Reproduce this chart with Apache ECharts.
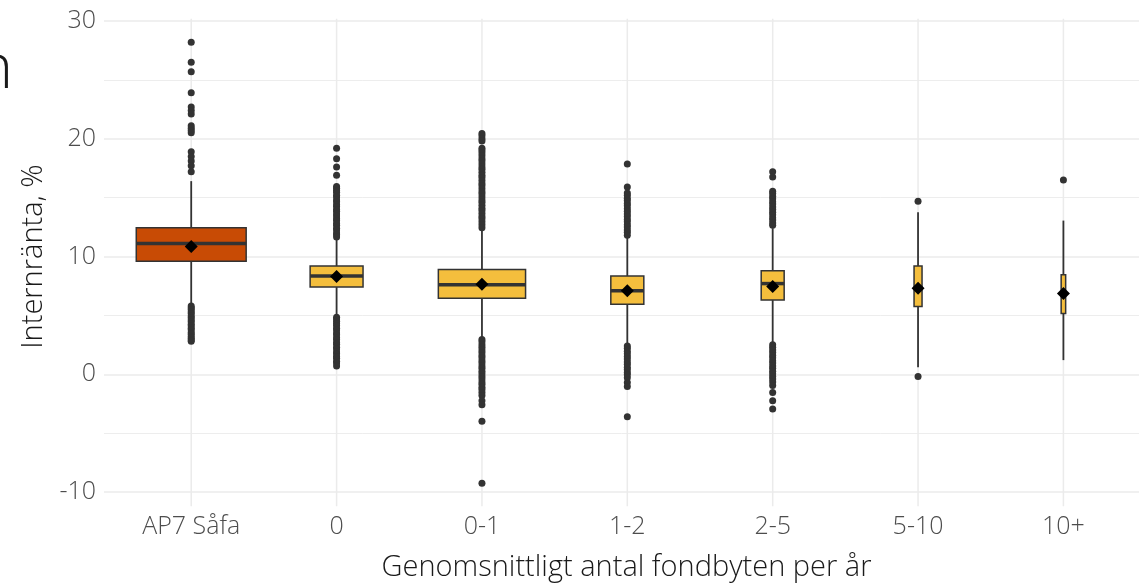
<!DOCTYPE html>
<html><head><meta charset="utf-8">
<script src="https://cdn.jsdelivr.net/npm/echarts@6/dist/echarts.min.js"></script>
<style>html,body{margin:0;padding:0;background:#fff;overflow:hidden}#c{width:1142px;height:587px}</style>
</head><body><div id="c"></div>
<script>
// ---- data ----
const categories = ['AP7 Såfa', '0', '0-1', '1-2', '2-5', '5-10', '10+'];
const whiskerLow  = [6.0, 5.0, 3.1, 2.5, 2.7, 0.6, 1.2];
const q1          = [9.6, 7.4, 6.45, 5.95, 6.3, 5.75, 5.15];
const median      = [11.1, 8.35, 7.6, 7.1, 7.7, 7.35, 6.9];
const q3          = [12.45, 9.2, 8.9, 8.35, 8.8, 9.2, 8.45];
const whiskerHigh = [16.4, 11.5, 12.3, 11.6, 12.4, 13.75, 13.05];
const means       = [10.85, 8.3, 7.65, 7.1, 7.45, 7.3, 6.85];
const outAP7 = [28.2, 26.5, 25.7, 23.9, 22.7, 22.4, 22.1, 21.1, 20.9, 20.7, 20.5, 18.9, 18.5, 18.1, 17.7, 17.2,
  5.8, 5.65, 5.5, 5.3, 5.15, 4.95, 4.8, 4.6, 4.45, 4.25, 4.1, 3.9, 3.75, 3.55, 3.4, 3.2, 3.05, 2.9, 2.8];
const out0 = [19.2, 18.3, 17.6, 16.9, 15.95, 15.8, 15.6, 15.45, 15.2, 15.05, 14.8, 14.65, 14.4, 14.25, 14.0, 13.85,
  13.6, 13.45, 13.2, 13.05, 12.8, 12.65, 12.4, 12.25, 12.0, 11.85, 11.65,
  4.85, 4.7, 4.5, 4.3, 4.15, 3.9, 3.75, 3.5, 3.35, 3.1, 2.95, 2.7, 2.55, 2.3, 2.15, 1.9, 1.75, 1.5, 1.35, 1.1, 0.95, 0.7];
const out01 = [20.45, 20.25, 20.0, 19.8, 19.2, 19.0, 18.8, 18.55, 18.3, 18.1, 17.85, 17.6, 17.4, 17.15, 16.9, 16.7,
  16.45, 16.2, 16.0, 15.75, 15.5, 15.3, 15.05, 14.8, 14.6, 14.35, 14.1, 13.9, 13.65, 13.4, 13.2, 12.95, 12.7, 12.45,
  2.95, 2.75, 2.5, 2.3, 2.05, 1.85, 1.6, 1.4, 1.15, 0.95, 0.7, 0.5, 0.25, 0.05, -0.2, -0.4, -0.65, -0.85, -1.1, -1.3,
  -1.55, -1.8, -2.25, -2.6, -4.0, -9.25];
const out12 = [17.85, 15.9, 15.4, 15.2, 14.95, 14.75, 14.5, 14.3, 14.05, 13.85, 13.6, 13.4, 13.15, 12.95, 12.7, 12.5,
  12.25, 12.05, 11.8, 2.4, 2.2, 1.95, 1.75, 1.5, 1.3, 1.05, 0.85, 0.6, 0.4, 0.15, -0.05, -0.3, -0.7, -1.05, -3.6];
const out25 = [17.2, 16.75, 15.55, 15.35, 15.1, 14.9, 14.65, 14.45, 14.2, 14.0, 13.75, 13.55, 13.3, 13.1, 12.85, 12.65,
  2.5, 2.3, 2.05, 1.85, 1.6, 1.4, 1.15, 0.95, 0.7, 0.5, 0.25, 0.05, -0.2, -0.4, -0.65, -0.95, -1.55, -2.25, -2.95];
const out510 = [14.7, -0.2];
const out10p = [16.5];
const outlierLists = [outAP7, out0, out01, out12, out25, out510, out10p];
const yTicks = [-10, 0, 10, 20, 30];

// ---- styles / layout ----
const boxWidthFrac = [0.756, 0.364, 0.6, 0.227, 0.158, 0.055, 0.031];
const boxColors = ['#C84B05', '#F4BE3D', '#F4BE3D', '#F4BE3D', '#F4BE3D', '#F4BE3D', '#F4BE3D'];
const panelTop = 30.2, panelBottom = -11.2;
const FONT = '"Open Sans", "Noto Sans", sans-serif';

const boxData = categories.map((c, i) => [i, whiskerLow[i], q1[i], median[i], q3[i], whiskerHigh[i]]);
const outlierData = [];
outlierLists.forEach((arr, i) => arr.forEach(v => outlierData.push([i, v])));
const meanData = means.map((m, i) => [i, m]);
const vgridData = categories.map((c, i) => [i]);

const chart = echarts.init(document.getElementById('c'), null, {renderer: 'canvas'});
chart.setOption({
  animation: false,
  backgroundColor: '#fff',
  grid: {left: 104, top: 21, width: 1038, height: 472, containLabel: false},
  xAxis: {
    type: 'value', min: -0.6, max: 6.52, splitNumber: 7,
    axisLine: {show: false}, axisTick: {show: false}, splitLine: {show: false},
    axisLabel: {
      margin: 22, fontSize: 25, color: '#4D4D4D', fontFamily: FONT, fontWeight: 300,
      formatter: v => (Number.isInteger(v) && categories[v] !== undefined) ? categories[v] : ''
    },
    name: 'Genomsnittligt antal fondbyten per år', nameLocation: 'middle', nameGap: 61,
    nameTextStyle: {fontSize: 29, color: '#1A1A1A', fontFamily: FONT, fontWeight: 300, padding: [0, 0, 0, 10]}
  },
  yAxis: {
    type: 'value', min: -10, max: 30, interval: 10,
    axisLine: {show: false}, axisTick: {show: false},
    splitLine: {show: true, lineStyle: {color: '#EBEBEB', width: 1.5}},
    minorTick: {show: false, splitNumber: 2},
    minorSplitLine: {show: true, lineStyle: {color: '#EDEDED', width: 1}},
    axisLabel: {margin: 8, fontSize: 25, color: '#4D4D4D', fontFamily: FONT, fontWeight: 300,
      formatter: v => yTicks.includes(v) ? String(v) : ''},
    name: 'Internränta, %', nameLocation: 'middle', nameGap: 45, nameRotate: 90,
    nameTextStyle: {fontSize: 29, color: '#1A1A1A', fontFamily: FONT, fontWeight: 300}
  },
  graphic: [{
    type: 'text', x: 13, y: 70, silent: true,
    style: {text: 'n', fontSize: 62, fontFamily: FONT, fontWeight: 300, fill: '#1A1A1A', align: 'right', verticalAlign: 'middle'}
  }],
  series: [
    {
      type: 'custom', name: 'vgrid', z: 0, silent: true, data: vgridData,
      encode: {x: 0},
      renderItem: (params, api) => {
        const x = api.coord([api.value(0), 0])[0];
        const yt = api.coord([0, panelTop])[1];
        const yb = api.coord([0, panelBottom])[1];
        return {type: 'line', shape: {x1: x, y1: yt, x2: x, y2: yb}, style: {stroke: '#EBEBEB', lineWidth: 1.5}};
      }
    },
    {
      type: 'custom', name: 'box', z: 2, data: boxData,
      encode: {x: 0, y: [1, 2, 3, 4, 5]},
      renderItem: (params, api) => {
        const i = api.value(0);
        const x = api.coord([i, 0])[0];
        const band = api.size([1, 0])[0];
        const w = boxWidthFrac[i] * band;
        const yLow = api.coord([i, api.value(1)])[1];
        const yQ1 = api.coord([i, api.value(2)])[1];
        const yMed = api.coord([i, api.value(3)])[1];
        const yQ3 = api.coord([i, api.value(4)])[1];
        const yHigh = api.coord([i, api.value(5)])[1];
        const ls = {stroke: '#333333', lineWidth: 1.8};
        return {type: 'group', children: [
          {type: 'line', shape: {x1: x, y1: yHigh, x2: x, y2: yQ3}, style: ls},
          {type: 'line', shape: {x1: x, y1: yQ1, x2: x, y2: yLow}, style: ls},
          {type: 'rect', shape: {x: x - w / 2, y: yQ3, width: w, height: yQ1 - yQ3},
            style: {fill: boxColors[i], stroke: '#333333', lineWidth: 1.5}},
          {type: 'line', shape: {x1: x - w / 2, y1: yMed, x2: x + w / 2, y2: yMed},
            style: {stroke: '#333333', lineWidth: 3.5}}
        ]};
      }
    },
    {
      type: 'scatter', name: 'outliers', z: 3, data: outlierData, symbol: 'circle', symbolSize: 7,
      itemStyle: {color: '#333333', opacity: 1}, silent: true
    },
    {
      type: 'scatter', name: 'mean', z: 4, data: meanData, symbol: 'diamond', symbolSize: 13,
      itemStyle: {color: '#000000', opacity: 1}, silent: true
    }
  ]
});
</script></body></html>
